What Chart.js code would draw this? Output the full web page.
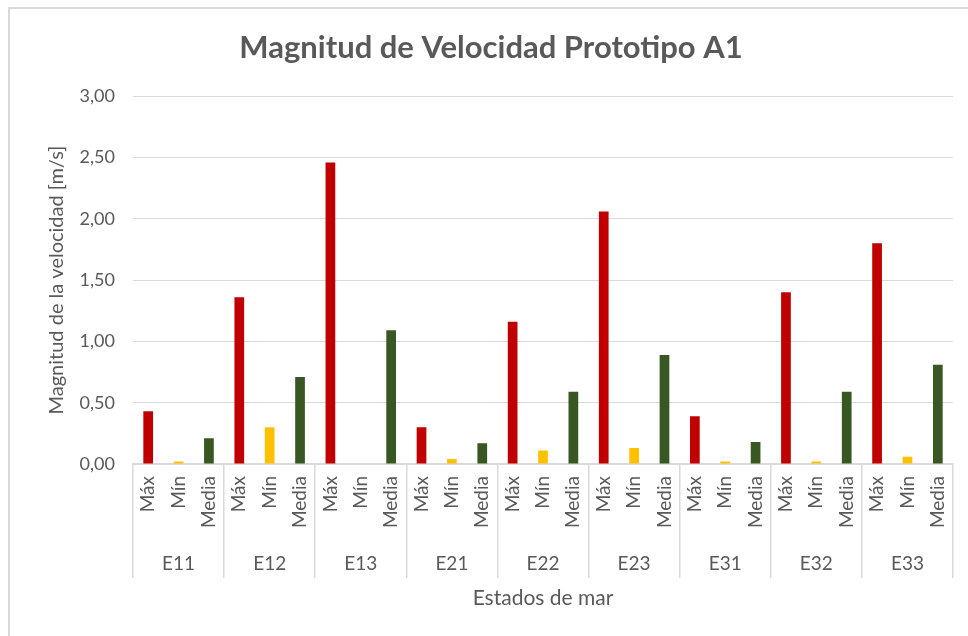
<!DOCTYPE html>
<html>
<head>
<meta charset="utf-8">
<script src="https://cdn.jsdelivr.net/npm/chart.js@4/dist/chart.umd.min.js"></script>
<style>
  html, body { margin: 0; padding: 0; background: #fff; }
  #wrap { position: relative; width: 968px; height: 636px; overflow: hidden; }
  #frame { position: absolute; left: 8px; top: 7px; width: 1000px; height: 700px; border: 2px solid #d9d9d9; box-sizing: border-box; }
  #chart { position: absolute; left: 0; top: 0; }
</style>
</head>
<body>
<div id="wrap">
  <div id="frame"></div>
  <canvas id="chart" width="968" height="636"></canvas>
</div>
<script>
const groups = ['E11', 'E12', 'E13', 'E21', 'E22', 'E23', 'E31', 'E32', 'E33'];
const stats = ['Máx', 'Mín', 'Media'];
const maxVals = [0.43, 1.36, 2.46, 0.30, 1.16, 2.06, 0.39, 1.40, 1.80];
const minVals = [0.02, 0.30, 0.00, 0.04, 0.11, 0.13, 0.02, 0.02, 0.06];
const meanVals = [0.21, 0.71, 1.09, 0.17, 0.59, 0.89, 0.18, 0.59, 0.81];
const yTicks = [0, 0.5, 1, 1.5, 2, 2.5, 3];

const statColors = ['#C00000', '#FFC000', '#385723'];
const grey = '#595959';
const lineGrey = '#d9d9d9';
const fontFamily = 'Lato, "Open Sans", sans-serif';

// flatten groups x stats into one row of bars
const labels = [];
const values = [];
const colors = [];
groups.forEach(function(g, i) {
  const row = [maxVals[i], minVals[i], meanVals[i]];
  stats.forEach(function(s, j) {
    labels.push(s);
    values.push(row[j]);
    colors.push(statColors[j]);
  });
});

const ctx = document.getElementById('chart').getContext('2d');
const chart = new Chart(ctx, {
  type: 'bar',
  data: {
    labels: labels,
    datasets: [{
      data: values,
      backgroundColor: colors,
      borderWidth: 0,
      categoryPercentage: 0.32,
      barPercentage: 1
    }]
  },
  options: {
    responsive: false,
    animation: false,
    layout: { padding: { top: 0, right: 15, bottom: 0, left: 29 } },
    plugins: {
      legend: { display: false },
      tooltip: { enabled: false },
      title: {
        display: true,
        text: 'Magnitud de Velocidad Prototipo A1',
        color: grey,
        font: { family: fontFamily, size: 31, weight: 'bold' },
        padding: { top: 29, bottom: 30 }
      }
    },
    scales: {
      y: {
        position: 'left',
        min: 0,
        max: 3,
        afterBuildTicks: function(scale) {
          scale.ticks = yTicks.map(function(v) { return { value: v }; });
        },
        afterFit: function(scale) { scale.width = 104; },
        border: { display: false },
        grid: { color: lineGrey, lineWidth: 1, drawTicks: false },
        ticks: {
          color: grey,
          padding: 18,
          font: { family: fontFamily, size: 18 },
          callback: function(value) {
            return Number(value).toFixed(2).replace('.', ',');
          }
        },
        title: {
          display: true,
          text: 'Magnitud de la velocidad [m/s]',
          color: grey,
          font: { family: fontFamily, size: 20 },
          padding: { top: 16, bottom: 0 }
        }
      },
      x: {
        position: 'bottom',
        weight: 0,
        afterFit: function(scale) { scale.height = 72; },
        border: { display: true, color: lineGrey, width: 1.5 },
        grid: {
          offset: true,
          drawOnChartArea: false,
          drawTicks: true,
          tickLength: 72,
          lineWidth: 1.5,
          color: function(c) {
            return (c.index === undefined || c.index % 3 === 0) ? lineGrey : 'rgba(0,0,0,0)';
          }
        },
        ticks: {
          autoSkip: false,
          minRotation: 90,
          maxRotation: 90,
          padding: -60,
          color: grey,
          font: { family: fontFamily, size: 19 }
        }
      },
      x2: {
        type: 'category',
        position: 'bottom',
        weight: 1,
        labels: groups,
        offset: true,
        afterFit: function(scale) { scale.height = 100; },
        border: { display: false },
        grid: {
          offset: true,
          drawOnChartArea: false,
          drawTicks: true,
          tickLength: 42,
          lineWidth: 1.5,
          color: lineGrey
        },
        ticks: {
          autoSkip: false,
          maxRotation: 0,
          padding: -26,
          color: grey,
          font: { family: fontFamily, size: 19 }
        },
        title: {
          display: true,
          text: 'Estados de mar',
          color: grey,
          font: { family: fontFamily, size: 21 },
          padding: { top: 0, bottom: 25 }
        }
      }
    }
  }
});
</script>
</body>
</html>
